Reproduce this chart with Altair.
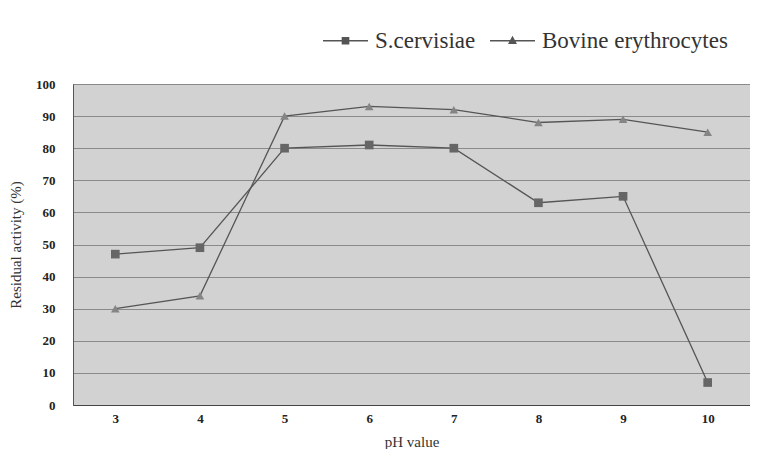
import altair as alt
import pandas as pd

ph = [3, 4, 5, 6, 7, 8, 9, 10]
s_cervisiae = [47, 49, 80, 81, 80, 63, 65, 7]
bovine = [30, 34, 90, 93, 92, 88, 89, 85]
series_names = ["S.cervisiae", "Bovine erythrocytes"]

rows = []
for p, v in zip(ph, s_cervisiae):
    rows.append({"pH": p, "activity": v, "series": series_names[0]})
for p, v in zip(ph, bovine):
    rows.append({"pH": p, "activity": v, "series": series_names[1]})
df = pd.DataFrame(rows)

FONT = "Liberation Serif"

x = alt.X("pH:Q", scale=alt.Scale(domain=[2.5, 10.5], nice=False, zero=False),
          axis=alt.Axis(values=ph, title="pH value", grid=False, ticks=False,
                        labelFont=FONT, labelFontSize=13, labelFontWeight="bold",
                        labelColor="#222", labelPadding=7,
                        titleFont=FONT, titleFontSize=15, titleFontWeight="normal",
                        titleColor="#333", titlePadding=9,
                        domainColor="#444"))
y = alt.Y("activity:Q", scale=alt.Scale(domain=[0, 100], nice=False),
          axis=alt.Axis(values=list(range(0, 101, 10)), title="Residual activity (%)",
                        grid=True, gridColor="#8a8a8a", gridWidth=1, ticks=False,
                        labelFont=FONT, labelFontSize=13, labelFontWeight="bold",
                        labelColor="#222", labelPadding=18,
                        titleFont=FONT, titleFontSize=15, titleFontWeight="normal",
                        titleColor="#333", titlePadding=12,
                        domainColor="#555"))

base = alt.Chart(df)

lines = base.mark_line(color="#555555", strokeWidth=1.3).encode(
    x=x, y=y, detail="series:N")

pts_s = base.transform_filter(alt.datum.series == series_names[0]).mark_point(
    shape="square", filled=True, opacity=1, size=75, color="#666666").encode(x=x, y=y)
pts_b = base.transform_filter(alt.datum.series == series_names[1]).mark_point(
    shape="triangle-up", filled=True, opacity=1, size=75, color="#858585").encode(x=x, y=y)

# legend glyphs: thin bar (line) plus marker, all filled
sq_path = "M-1,-0.03H1V0.03H-1ZM-0.17,-0.17H0.17V0.17H-0.17Z"
tri_path = "M-1,-0.03H1V0.03H-1ZM0,-0.22L0.2,0.14H-0.2Z"

legend_layer = base.transform_filter("false").mark_point(
    filled=True, color="#555555", opacity=1).encode(
    x=x, y=y,
    shape=alt.Shape("series:N", sort=series_names,
                    scale=alt.Scale(domain=series_names, range=[sq_path, tri_path]),
                    legend=alt.Legend(title=None, orient="none", direction="horizontal",
                                      legendX=250, legendY=-66,
                                      symbolSize=2025, symbolOpacity=1,
                                      symbolFillColor="#555555",
                                      symbolStrokeWidth=0,
                                      labelFont=FONT, labelFontSize=23,
                                      labelColor="#333333", labelOffset=7,
                                      labelLimit=400,
                                      columnPadding=14)),
)

chart = alt.layer(lines, pts_s, pts_b, legend_layer).properties(
    width=742, height=441,
    autosize=alt.AutoSizeParams(type="fit", contains="padding"),
    padding={"left": 0, "top": 70, "right": 0, "bottom": 0},
    background="white",
).configure(
    font=FONT
).configure_view(
    fill="#d2d2d2", stroke="#555", strokeWidth=1
).configure_legend(
    labelFont=FONT, labelFontSize=23, labelColor="#333333", labelLimit=400
)

chart.save("out.html", embed_options={"renderer": "svg", "actions": False})
